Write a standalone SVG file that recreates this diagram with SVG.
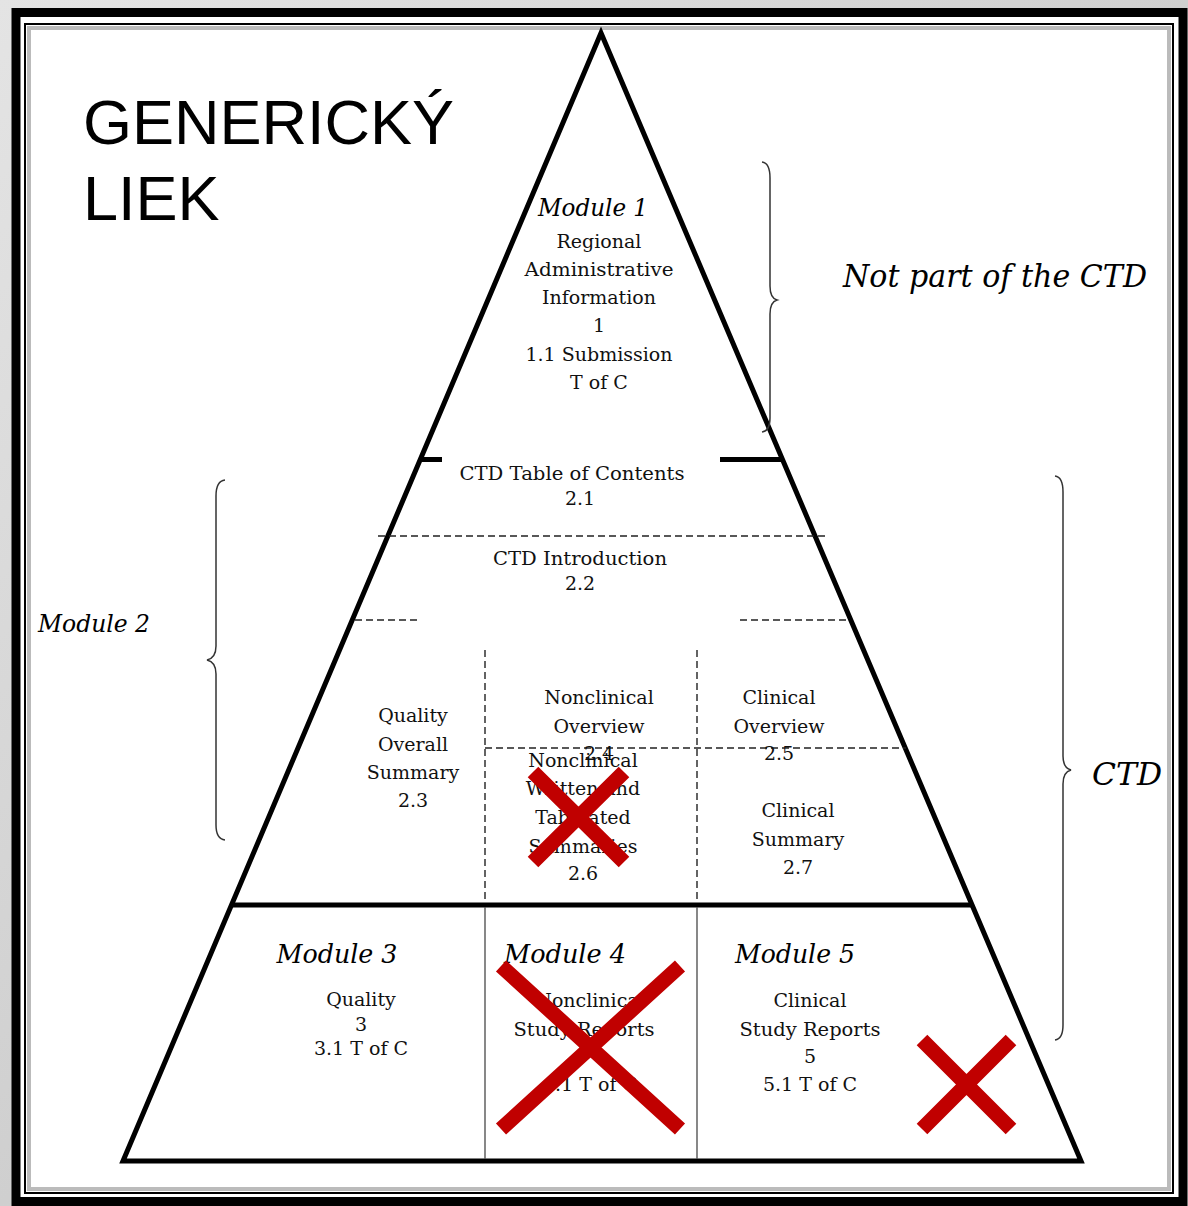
<svg xmlns="http://www.w3.org/2000/svg" width="1188" height="1206" viewBox="0 0 1188 1206">
<defs>
<linearGradient id="bg" x1="0" y1="0" x2="1" y2="1">
<stop offset="0" stop-color="#e4e4e4"/>
<stop offset="0.5" stop-color="#cfcfcf"/>
<stop offset="1" stop-color="#e8e8e8"/>
</linearGradient>
<style>
.t{font-family:"DejaVu Serif","Liberation Serif",serif;font-size:19px;fill:#111;text-anchor:middle}
.it{font-family:"DejaVu Serif","Liberation Serif",serif;font-style:italic;fill:#000;text-anchor:middle}
.big{font-family:"Liberation Sans",Arial,sans-serif;font-size:63px;fill:#000}
.thick{stroke:#000;stroke-width:5;fill:none}
.dash{stroke:#222;stroke-width:1.4;stroke-dasharray:7 4;fill:none}
.thin{stroke:#555;stroke-width:1.4;fill:none}
.brace{stroke:#333;stroke-width:1.5;fill:none}
.x{stroke:#c00000;stroke-width:15;fill:none}
</style>
</defs>
<rect x="0" y="0" width="1188" height="1206" fill="url(#bg)"/>
<g id="frame">
<rect x="16" y="12.5" width="1167" height="1189" fill="#fff" stroke="#000" stroke-width="9"/>
<rect x="25" y="24" width="1148" height="1169" fill="none" stroke="#000" stroke-width="2"/>
<rect x="29" y="28" width="1140" height="1161" fill="none" stroke="#bbb" stroke-width="4"/>
</g>
<g id="title">
<text class="big" x="83" y="144">GENERICKÝ</text>
<text class="big" x="83" y="220">LIEK</text>
</g>
<g id="pyramid">
<polygon points="601,33 123,1161 1081,1161" fill="#fff" stroke="#000" stroke-width="5" stroke-linejoin="miter"/>
<line class="thick" x1="420" y1="459.5" x2="442" y2="459.5"/>
<line class="thick" x1="720" y1="459.5" x2="782" y2="459.5"/>
<line class="thick" x1="230" y1="905" x2="973" y2="905"/>
<line class="dash" x1="378" y1="536" x2="826" y2="536"/>
<line class="dash" x1="355" y1="620" x2="421" y2="620"/>
<line class="dash" x1="740" y1="620" x2="850" y2="620"/>
<line class="dash" x1="485" y1="650" x2="485" y2="903"/>
<line class="dash" x1="697" y1="650" x2="697" y2="903"/>
<line class="dash" x1="485" y1="748" x2="906" y2="748"/>
<line class="thin" x1="485" y1="907" x2="485" y2="1159"/>
<line class="thin" x1="697" y1="907" x2="697" y2="1159"/>
</g>
<g id="connectors">
<path class="brace" d="M762,162 Q770,163 770,178 L770,286 Q770,298 777,300 Q770,302 770,314 L770,418 Q770,431 762,432"/>
<path class="brace" d="M1055,476 Q1063,477 1063,492 L1063,756 Q1063,768 1071,770 Q1063,772 1063,784 L1063,1025 Q1063,1039 1055,1040"/>
<path class="brace" d="M225,480 Q216,481 216,496 L216,646 Q216,658 207,660 Q216,662 216,674 L216,825 Q216,839 225,840"/>
</g>
<g id="not-ctd">
<text class="it" x="995" y="287" font-size="31" textLength="304" lengthAdjust="spacingAndGlyphs">Not part of the CTD</text>
</g>
<g id="ctd-label">
<text class="it" x="1127" y="785" font-size="32" textLength="70" lengthAdjust="spacingAndGlyphs">CTD</text>
</g>
<g id="module2-label">
<text class="it" x="94" y="632" font-size="24" textLength="112" lengthAdjust="spacingAndGlyphs">Module 2</text>
</g>
<g id="module1">
<text class="it" x="593" y="216" font-size="24" textLength="110" lengthAdjust="spacingAndGlyphs">Module 1</text>
<text class="t" x="599" y="248">Regional</text>
<text class="t" x="599" y="276" textLength="149" lengthAdjust="spacingAndGlyphs">Administrative</text>
<text class="t" x="599" y="304">Information</text>
<text class="t" x="599" y="332">1</text>
<text class="t" x="599" y="361">1.1 Submission</text>
<text class="t" x="599" y="389">T of C</text>
</g>
<g id="toc">
<text class="t" x="572" y="480" textLength="225" lengthAdjust="spacingAndGlyphs">CTD Table of Contents</text>
<text class="t" x="580" y="505">2.1</text>
</g>
<g id="intro">
<text class="t" x="580" y="565" textLength="174" lengthAdjust="spacingAndGlyphs">CTD Introduction</text>
<text class="t" x="580" y="590">2.2</text>
</g>
<g id="qos">
<text class="t" x="413" y="722">Quality</text>
<text class="t" x="413" y="751">Overall</text>
<text class="t" x="413" y="779">Summary</text>
<text class="t" x="413" y="807">2.3</text>
</g>
<g id="nonclin-overview">
<text class="t" x="599" y="704">Nonclinical</text>
<text class="t" x="599" y="733">Overview</text>
<text class="t" x="599" y="760">2.4</text>
</g>
<g id="clin-overview">
<text class="t" x="779" y="704">Clinical</text>
<text class="t" x="779" y="733">Overview</text>
<text class="t" x="779" y="760">2.5</text>
</g>
<g id="nonclin-summaries">
<text class="t" x="583" y="767">Nonclinical</text>
<text class="t" x="583" y="795">Written and</text>
<text class="t" x="583" y="824">Tabulated</text>
<text class="t" x="583" y="853">Summaries</text>
<text class="t" x="583" y="880">2.6</text>
</g>
<g id="clin-summary">
<text class="t" x="798" y="817">Clinical</text>
<text class="t" x="798" y="846">Summary</text>
<text class="t" x="798" y="874">2.7</text>
</g>
<g id="module3">
<text class="it" x="337" y="963" font-size="26" textLength="121" lengthAdjust="spacingAndGlyphs">Module 3</text>
<text class="t" x="361" y="1006">Quality</text>
<text class="t" x="361" y="1031">3</text>
<text class="t" x="361" y="1055" textLength="94" lengthAdjust="spacingAndGlyphs">3.1 T of C</text>
</g>
<g id="module4">
<text class="it" x="565" y="963" font-size="26" textLength="122" lengthAdjust="spacingAndGlyphs">Module 4</text>
<text class="t" x="590" y="1007">Nonclinical</text>
<text class="t" x="584" y="1036" textLength="141" lengthAdjust="spacingAndGlyphs">Study Reports</text>
<text class="t" x="590" y="1091" textLength="94" lengthAdjust="spacingAndGlyphs">4.1 T of C</text>
</g>
<g id="module5">
<text class="it" x="795" y="963" font-size="26" textLength="120" lengthAdjust="spacingAndGlyphs">Module 5</text>
<text class="t" x="810" y="1007">Clinical</text>
<text class="t" x="810" y="1036" textLength="141" lengthAdjust="spacingAndGlyphs">Study Reports</text>
<text class="t" x="810" y="1063">5</text>
<text class="t" x="810" y="1091" textLength="94" lengthAdjust="spacingAndGlyphs">5.1 T of C</text>
</g>
<g id="crosses">
<path class="x" d="M533,772 L624,862 M624,772 L533,862"/>
<path class="x" d="M501,966 L680,1129 M680,966 L501,1129"/>
<path class="x" d="M922,1040 L1011,1129 M1011,1040 L922,1129"/>
</g>
</svg>
